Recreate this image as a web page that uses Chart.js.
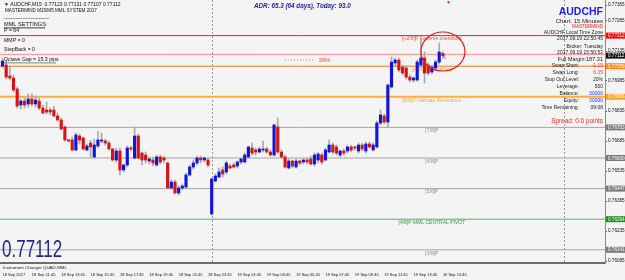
<!DOCTYPE html>
<html>
<head>
<meta charset="utf-8">
<script src="https://cdn.jsdelivr.net/npm/chart.js@4.4.1/dist/chart.umd.min.js"></script>
<style>
html, body { margin: 0; padding: 0; background: #f4f4f4; }
#wrap { width: 625px; height: 280px; position: relative; }
</style>
</head>
<body>
<div id="wrap"><canvas id="chart-audchf"></canvas></div>
<script>
/**
 * AUDCHF M15 with Murrey Math lines (MASTERMIND MML system).
 * Bars run from 18 Sep 09:45 to 19 Sep 15:45, one index per 15 minutes.
 */

const barOpen = [
    0.77060, 0.77065, 0.77010, 0.77000, 0.76945, 0.76865, 0.76885, 0.76870, 0.76895, 0.76870,
    0.76885, 0.76850, 0.76840, 0.76840, 0.76840, 0.76810, 0.76790, 0.76755, 0.76690, 0.76690,
    0.76640, 0.76710, 0.76700, 0.76640, 0.76675, 0.76605, 0.76660, 0.76685, 0.76685, 0.76675,
    0.76645, 0.76590, 0.76635, 0.76540, 0.76565, 0.76650, 0.76600, 0.76710, 0.76625, 0.76615,
    0.76585, 0.76590, 0.76565, 0.76605, 0.76600, 0.76575, 0.76450, 0.76480, 0.76425, 0.76450,
    0.76455, 0.76515, 0.76555, 0.76575, 0.76600, 0.76590, 0.76590, 0.76320, 0.76485, 0.76505,
    0.76540, 0.76530, 0.76560, 0.76565, 0.76560, 0.76580, 0.76580, 0.76605, 0.76650, 0.76640,
    0.76630, 0.76640, 0.76645, 0.76630, 0.76615, 0.76755, 0.76630, 0.76605, 0.76550, 0.76585,
    0.76555, 0.76585, 0.76580, 0.76590, 0.76595, 0.76570, 0.76590, 0.76615, 0.76590, 0.76630,
    0.76665, 0.76655, 0.76615, 0.76635, 0.76635, 0.76655, 0.76655, 0.76635, 0.76665, 0.76635,
    0.76670, 0.76640, 0.76655, 0.76775, 0.76810, 0.76780, 0.76955, 0.77075, 0.77090, 0.77055,
    0.77050, 0.77005, 0.76990, 0.76990, 0.77065, 0.77100, 0.77065, 0.77030, 0.77050, 0.77080,
    0.77123,
];
const barHigh = [
    0.77100, 0.77090, 0.77060, 0.77015, 0.76955, 0.76895, 0.76900, 0.76920, 0.76920, 0.76910,
    0.76900, 0.76865, 0.76880, 0.76850, 0.76860, 0.76825, 0.76800, 0.76760, 0.76695, 0.76705,
    0.76725, 0.76720, 0.76705, 0.76670, 0.76690, 0.76695, 0.76735, 0.76725, 0.76695, 0.76685,
    0.76650, 0.76650, 0.76650, 0.76570, 0.76660, 0.76660, 0.76755, 0.76720, 0.76630, 0.76630,
    0.76605, 0.76605, 0.76615, 0.76615, 0.76610, 0.76580, 0.76490, 0.76490, 0.76460, 0.76470,
    0.76525, 0.76565, 0.76590, 0.76610, 0.76610, 0.76605, 0.76600, 0.76500, 0.76520, 0.76550,
    0.76555, 0.76585, 0.76570, 0.76575, 0.76585, 0.76600, 0.76625, 0.76660, 0.76675, 0.76650,
    0.76655, 0.76685, 0.76655, 0.76640, 0.76770, 0.76800, 0.76640, 0.76615, 0.76595, 0.76590,
    0.76595, 0.76590, 0.76595, 0.76600, 0.76610, 0.76625, 0.76630, 0.76625, 0.76650, 0.76690,
    0.76675, 0.76665, 0.76640, 0.76645, 0.76665, 0.76665, 0.76660, 0.76675, 0.76675, 0.76680,
    0.76680, 0.76675, 0.76785, 0.76840, 0.76820, 0.76970, 0.77105, 0.77100, 0.77100, 0.77065,
    0.77060, 0.77015, 0.77005, 0.77090, 0.77190, 0.77130, 0.77075, 0.77065, 0.77090, 0.77175,
    0.77131,
];
const barLow = [
    0.77050, 0.76995, 0.76990, 0.76930, 0.76850, 0.76845, 0.76850, 0.76855, 0.76860, 0.76855,
    0.76840, 0.76820, 0.76820, 0.76815, 0.76805, 0.76785, 0.76740, 0.76685, 0.76680, 0.76635,
    0.76635, 0.76670, 0.76640, 0.76635, 0.76605, 0.76600, 0.76650, 0.76675, 0.76665, 0.76640,
    0.76585, 0.76580, 0.76515, 0.76530, 0.76555, 0.76635, 0.76595, 0.76595, 0.76565, 0.76575,
    0.76570, 0.76560, 0.76560, 0.76570, 0.76575, 0.76445, 0.76445, 0.76420, 0.76415, 0.76440,
    0.76450, 0.76510, 0.76545, 0.76565, 0.76575, 0.76580, 0.76555, 0.76315, 0.76480, 0.76500,
    0.76505, 0.76520, 0.76545, 0.76550, 0.76550, 0.76570, 0.76575, 0.76600, 0.76615, 0.76615,
    0.76625, 0.76630, 0.76625, 0.76610, 0.76610, 0.76625, 0.76600, 0.76550, 0.76545, 0.76550,
    0.76550, 0.76565, 0.76570, 0.76570, 0.76565, 0.76560, 0.76575, 0.76570, 0.76585, 0.76625,
    0.76620, 0.76615, 0.76605, 0.76615, 0.76625, 0.76630, 0.76640, 0.76625, 0.76635, 0.76625,
    0.76650, 0.76635, 0.76650, 0.76765, 0.76770, 0.76755, 0.76950, 0.77060, 0.77030, 0.77015,
    0.76995, 0.76980, 0.76980, 0.76985, 0.77055, 0.76975, 0.77015, 0.77020, 0.77040, 0.77070,
    0.77107,
];
const barClose = [
    0.77085, 0.77005, 0.77000, 0.76940, 0.76860, 0.76885, 0.76865, 0.76895, 0.76870, 0.76890,
    0.76850, 0.76825, 0.76830, 0.76830, 0.76810, 0.76790, 0.76745, 0.76690, 0.76685, 0.76640,
    0.76715, 0.76690, 0.76645, 0.76660, 0.76655, 0.76665, 0.76690, 0.76690, 0.76675, 0.76645,
    0.76590, 0.76635, 0.76540, 0.76565, 0.76650, 0.76645, 0.76710, 0.76600, 0.76590, 0.76590,
    0.76595, 0.76575, 0.76605, 0.76580, 0.76590, 0.76450, 0.76480, 0.76425, 0.76450, 0.76460,
    0.76515, 0.76555, 0.76575, 0.76600, 0.76590, 0.76600, 0.76565, 0.76495, 0.76510, 0.76530,
    0.76520, 0.76575, 0.76550, 0.76555, 0.76580, 0.76595, 0.76615, 0.76655, 0.76625, 0.76630,
    0.76645, 0.76645, 0.76630, 0.76615, 0.76765, 0.76630, 0.76605, 0.76555, 0.76585, 0.76560,
    0.76585, 0.76575, 0.76590, 0.76580, 0.76570, 0.76615, 0.76620, 0.76580, 0.76640, 0.76665,
    0.76630, 0.76625, 0.76635, 0.76625, 0.76655, 0.76640, 0.76650, 0.76665, 0.76645, 0.76670,
    0.76655, 0.76665, 0.76775, 0.76815, 0.76780, 0.76965, 0.77080, 0.77090, 0.77040, 0.77025,
    0.77005, 0.76990, 0.77000, 0.77080, 0.77100, 0.77025, 0.77025, 0.77055, 0.77080, 0.77130,
    0.77112,
];

// one label every 8 bars (2 hours)
const timeLabels = [
    '18 Sep 2017', '18 Sep 11:45', '18 Sep 13:45', '18 Sep 15:45', '18 Sep 17:45', '18 Sep 19:45',
    '18 Sep 21:45', '18 Sep 23:45', '19 Sep 01:45', '19 Sep 03:45', '19 Sep 05:45', '19 Sep 07:45',
    '19 Sep 09:45', '19 Sep 11:45', '19 Sep 13:45', '19 Sep 15:45',
];
const priceTicks = [0.77365, 0.77285, 0.77135, 0.76985, 0.76835, 0.76685, 0.76535, 0.76385, 0.76235, 0.76085];
const daySeparators = [57, 153];

const mmlLevels = [0.77212, 0.77059, 0.76906, 0.76753, 0.76600, 0.76447, 0.76294, 0.76141];
const mmlNames = [
    '[+2/8]P Extreme overshoot', '[+1/8]P Overshoot', '[8/8]P Ultimate Resistance', '[7/8]P',
    '[6/8]P', '[5/8]P', '[4/8]P MML CENTRAL PIVOT', '[3/8]P',
];
const mmlLineColors = ['#ff1a1a', '#f07a20', '#ffae33', '#a4a4a4', '#a4a4a4', '#a4a4a4', '#5cb05c', '#a4a4a4'];
const mmlLineWidths = [1, 1, 2, 1, 1, 1, 1, 1];
const mmlTextColors = ['#f04848', '#f59a50', '#f5a640', '#8f8f8f', '#8f8f8f', '#8f8f8f', '#3c9a3c', '#8f8f8f'];
const mmlTagColors = ['#ff0000', '#ff8c1a', '#ffa21f', '#7a7a7a', '#7a7a7a', '#7a7a7a', '#1f8f1f', '#7a7a7a'];
const mmlLabelBar = 117;

const askPrice = 0.77118;
const bidPrice = 0.77112;
const retrace = { from: 77, to: 85, price: 0.77090, text: '39%' };
const circleBox = { from: 114, to: 126, top: 0.77230, bottom: 0.77035 };

const infoLabels = ['Swap Short:', 'Swap Long:', 'Stop Out Level:', 'Leverage:', 'Balance:', 'Equity:', 'Time Remaining:'];
const infoValues = ['-1.15', '6.15', '20%', '500', '30000', '30000', '09:08'];
const infoValueColors = ['#ff2a2a', '#ff2a2a', '#222', '#222', '#2b2bff', '#2b2bff', '#222'];

const FONT = '"Liberation Sans", Arial, sans-serif';
const BULL = '#1414d8';
const BEAR = '#d81414';

function txt(ctx, s, x, y, size, color, align, weight) {
    ctx.font = (weight || 'normal') + ' ' + size + 'px ' + FONT;
    ctx.fillStyle = color;
    ctx.textAlign = align || 'left';
    ctx.textBaseline = 'middle';
    ctx.fillText(s, x, y);
}

function noPadding(s) {
    s.paddingLeft = 0;
    s.paddingRight = 0;
    s.paddingTop = 0;
    s.paddingBottom = 0;
}

const mmlPlugin = {
    id: 'mml',
    beforeDraw(chart) {
        const ctx = chart.ctx;
        ctx.save();
        ctx.fillStyle = '#f4f4f4';
        ctx.fillRect(0, 0, chart.width, chart.height);
        ctx.restore();
    },
    beforeDatasetsDraw(chart) {
        const { ctx, chartArea: a, scales: { x, y } } = chart;
        ctx.save();

        // day separators
        ctx.strokeStyle = '#9a9a9a';
        ctx.lineWidth = 1;
        ctx.setLineDash([2, 2]);
        daySeparators.forEach(d => {
            const px = Math.round(x.getPixelForValue(d)) + 0.5;
            ctx.beginPath();
            ctx.moveTo(px, a.top);
            ctx.lineTo(px, a.bottom);
            ctx.stroke();
        });
        ctx.setLineDash([]);

        // murrey math lines
        mmlLevels.forEach((v, i) => {
            const py = y.getPixelForValue(v);
            ctx.strokeStyle = mmlLineColors[i];
            ctx.lineWidth = mmlLineWidths[i];
            ctx.beginPath();
            ctx.moveTo(a.left, py);
            ctx.lineTo(a.right, py);
            ctx.stroke();
            txt(ctx, mmlNames[i], x.getPixelForValue(mmlLabelBar), py + 3.5, 5, mmlTextColors[i], 'center');
        });

        // ask line
        const ay = y.getPixelForValue(askPrice);
        ctx.strokeStyle = '#ff8c8c';
        ctx.lineWidth = 1;
        ctx.beginPath();
        ctx.moveTo(a.left, ay);
        ctx.lineTo(a.right, ay);
        ctx.stroke();

        // retracement marker
        const ry = y.getPixelForValue(retrace.price);
        ctx.strokeStyle = '#f06060';
        ctx.setLineDash([1, 2]);
        ctx.beginPath();
        ctx.moveTo(x.getPixelForValue(retrace.from), ry);
        ctx.lineTo(x.getPixelForValue(retrace.to), ry);
        ctx.stroke();
        ctx.setLineDash([]);
        txt(ctx, retrace.text, x.getPixelForValue(retrace.to) + 4, ry, 6, '#f04848', 'left');
        ctx.restore();
    },
    afterDatasetsDraw(chart) {
        const { ctx, scales: { x, y } } = chart;
        ctx.save();
        const x0 = x.getPixelForValue(circleBox.from);
        const x1 = x.getPixelForValue(circleBox.to);
        const y0 = y.getPixelForValue(circleBox.top);
        const y1 = y.getPixelForValue(circleBox.bottom);
        ctx.strokeStyle = '#e82020';
        ctx.lineWidth = 1.2;
        ctx.beginPath();
        ctx.ellipse((x0 + x1) / 2, (y0 + y1) / 2, (x1 - x0) / 2, (y1 - y0) / 2, 0, 0, Math.PI * 2);
        ctx.stroke();

        // last-bar arrow and top marker
        txt(ctx, '\u039b', x.getPixelForValue(120) + 1, y.getPixelForValue(0.77100), 5, '#2a2aff', 'center');
        txt(ctx, '\u25bc', x.getPixelForValue(121.5), y.getPixelForValue(0.77375), 5, '#e82020', 'center');
        ctx.restore();
    },
    afterDraw(chart) {
        const { ctx, chartArea: a, scales: { y } } = chart;
        ctx.save();

        // price tags on the axis
        const tag = (v, color, label) => {
            const py = y.getPixelForValue(v);
            ctx.fillStyle = color;
            ctx.fillRect(a.right + 1, py - 3, chart.width - a.right - 1, 6);
            txt(ctx, label, a.right + 3, py + 0.3, 4.6, '#fff', 'left');
        };
        mmlLevels.forEach((v, i) => tag(v, mmlTagColors[i], v.toFixed(5)));
        tag(bidPrice, '#111', bidPrice.toFixed(5));

        // top-left header and settings
        const last = barOpen.length - 1;
        txt(ctx, '\u25bc AUDCHF,M15  ' + [barOpen[last], barHigh[last], barLow[last], barClose[last]].map(v => v.toFixed(5)).join(' '),
            4, 5, 5, '#111');
        txt(ctx, 'MASTERMIND M15/M5 MML SYSTEM 2017', 5, 10.5, 4.6, '#111');
        txt(ctx, '---------------------------', 4, 19, 5, '#111');
        txt(ctx, 'MML SETTINGS:', 4, 24.5, 5.6, '#111');
        ctx.fillStyle = '#111';
        ctx.fillRect(4, 27.5, 41, 0.8);
        txt(ctx, 'P = 64', 4, 31, 5.2, '#111');
        txt(ctx, 'MMP = 0', 4, 41, 5.2, '#111');
        txt(ctx, 'StepBack = 0', 4, 50, 5.2, '#111');
        txt(ctx, 'Octave Gap = 15.3 pips', 4, 59.5, 5.2, '#111');
        ctx.fillStyle = '#666';
        ctx.fillRect(4, 62.5, 52, 0.8);

        txt(ctx, 'ADR: 65.3 (64 days), Today: 93.0', 254, 6, 6.3, '#24249c', 'left', 'italic bold');

        // right info block
        const rx = a.right - 2;
        txt(ctx, 'AUDCHF', rx, 12.5, 10.5, '#1c1cf0', 'right', 'bold');
        txt(ctx, 'Chart: 15 Minutes', rx, 21, 6, '#222', 'right');
        txt(ctx, 'MASTERMIND', rx, 26.5, 4.6, '#ff2020', 'right');
        txt(ctx, 'AUDCHF Local Time Zone', rx, 33, 5, '#222', 'right');
        txt(ctx, '2017.09.19 22:50:45', rx, 39, 5, '#222', 'right');
        txt(ctx, 'Broker: Tuesday', rx, 47, 5, '#222', 'right');
        txt(ctx, '2017.09.19 15:50:52', rx, 52.5, 5, '#222', 'right');
        txt(ctx, 'Full Margin:', rx - 17, 59.5, 5.4, '#222', 'right');
        txt(ctx, '187.31', rx, 59.5, 5.6, '#222', 'right');
        infoLabels.forEach((l, i) => {
            const ly = 66 + i * 7;
            txt(ctx, l, rx - 24, ly, 5, '#222', 'right');
            txt(ctx, infoValues[i], rx, ly, 5, infoValueColors[i], 'right');
        });
        txt(ctx, 'Spread: 0.6 points', rx, 121, 6.4, '#ff2a2a', 'right');

        // big bid price
        ctx.save();
        ctx.translate(2, 250.5);
        ctx.scale(1, 1.42);
        txt(ctx, bidPrice.toFixed(5), 0, 0, 17, '#1d2b8f', 'left');
        ctx.restore();

        txt(ctx, 'Instrument Changer QUAD-MML', 3, a.bottom + 5, 4.4, '#222');
        ctx.restore();
    },
};

const wickData = barHigh.map((h, i) => ({ x: i, y: [barLow[i], h] }));
const bodyData = barOpen.map((o, i) => ({ x: i, y: [o, barClose[i]] }));
const bodyColors = barOpen.map((o, i) => (barClose[i] >= o ? BULL : BEAR));

new Chart(document.getElementById('chart-audchf'), {
    type: 'bar',
    data: {
        datasets: [
            {
                label: 'wick',
                data: wickData,
                backgroundColor: '#a9a9a9',
                barThickness: 1,
                grouped: false,
                borderWidth: 0,
                order: 2,
            },
            {
                label: 'body',
                data: bodyData,
                backgroundColor: bodyColors,
                barThickness: 2.5,
                grouped: false,
                borderWidth: 0,
                order: 1,
            },
        ],
    },
    options: {
        responsive: true,
        maintainAspectRatio: false,
        animation: false,
        layout: { padding: 0 },
        plugins: {
            legend: { display: false },
            tooltip: { enabled: false },
        },
        scales: {
            x: {
                type: 'linear',
                offset: false,
                min: -0.68,
                max: 164.17,
                afterBuildTicks: s => { s.ticks = timeLabels.map((_, i) => ({ value: i * 8 })); },
                afterFit: s => { s.height = 17; noPadding(s); },
                ticks: {
                    align: 'start',
                    maxRotation: 0,
                    autoSkip: false,
                    padding: 9,
                    color: '#111',
                    font: { size: 4, family: FONT },
                    callback: (v, i) => timeLabels[i],
                },
                grid: { offset: false, drawOnChartArea: false, drawTicks: false },
                border: { color: '#6e6e6e', width: 2 },
            },
            y: {
                position: 'right',
                min: 0.76075,
                max: 0.7739,
                afterBuildTicks: s => { s.ticks = priceTicks.map(v => ({ value: v })); },
                afterFit: s => { s.width = 20; noPadding(s); },
                ticks: {
                    padding: 1,
                    autoSkip: false,
                    color: '#111',
                    font: { size: 4.6, family: FONT },
                    callback: v => v.toFixed(5),
                },
                grid: { drawOnChartArea: false, tickLength: 2, color: '#555' },
                border: { color: '#8a8a8a' },
            },
        },
    },
    plugins: [mmlPlugin],
});
</script>
</body>
</html>
